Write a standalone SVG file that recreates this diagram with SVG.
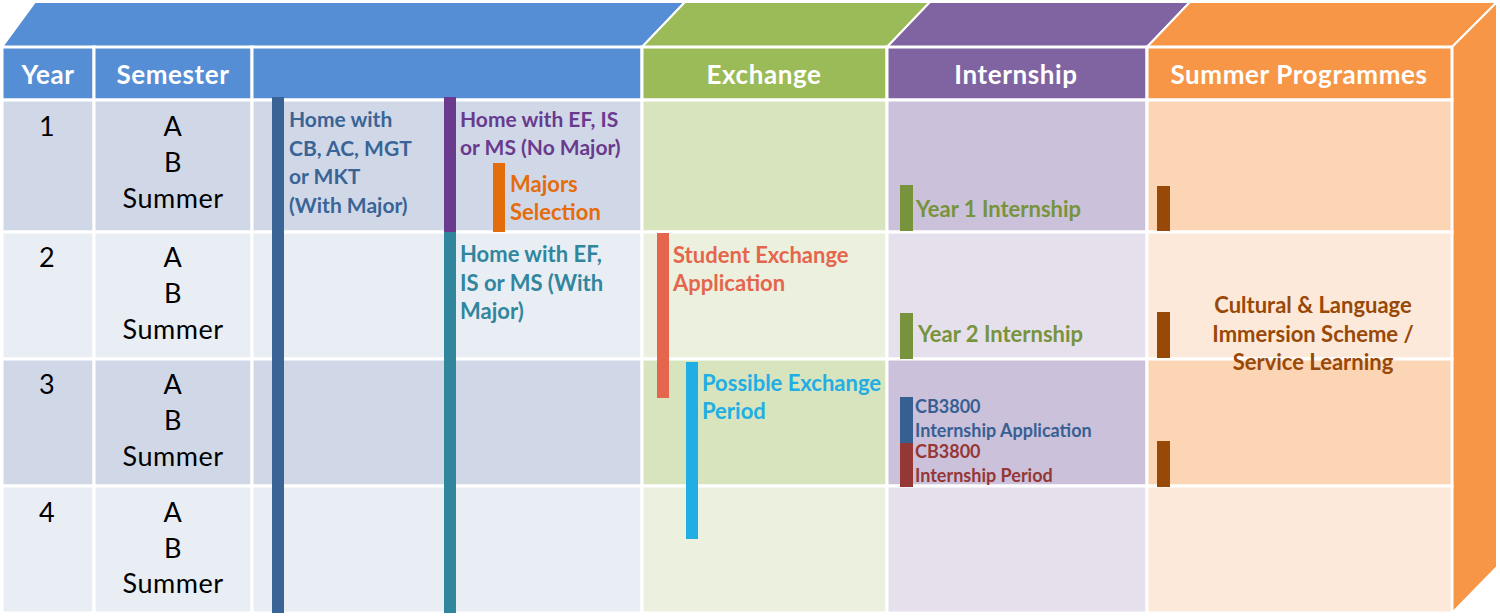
<svg xmlns="http://www.w3.org/2000/svg" width="1500" height="616" viewBox="0 0 1500 616">
<style>
.hd{font-family:Lato,"Open Sans",sans-serif;font-weight:bold;font-size:26px;letter-spacing:0.6px;fill:#fff;text-anchor:middle}
.yr{font-family:Lato,"Open Sans",sans-serif;font-size:27px;letter-spacing:0.5px;fill:#000;text-anchor:middle}
.lb{font-family:Lato,"Open Sans",sans-serif;font-weight:bold;font-size:22px}
.lb2{font-family:Lato,"Open Sans",sans-serif;font-weight:bold;font-size:21px}
.sm{font-family:Lato,"Open Sans",sans-serif;font-weight:bold;font-size:18px}
.cell{stroke:#fff;stroke-width:3}
</style>
<rect width="1500" height="616" fill="#fff"/>
<g id="top-faces" stroke="#fff" stroke-width="2">
<polygon points="2,47 35,2 685,2 642,47" fill="#558ed5"/>
<polygon points="642,47 685,2 930,2 887,47" fill="#9bbb59"/>
<polygon points="887,47 930,2 1190,2 1147,47" fill="#8064a2"/>
<polygon points="1147,47 1190,2 1497,2 1452,47" fill="#f79646"/>
<polygon points="1452,47 1497,2 1497,567 1452,613" fill="#f79646"/>
</g>
<g id="header">
<rect class="cell" x="2" y="47" width="92" height="53" fill="#558ed5"/>
<rect class="cell" x="94" y="47" width="158" height="53" fill="#558ed5"/>
<rect class="cell" x="252" y="47" width="390" height="53" fill="#558ed5"/>
<rect class="cell" x="642" y="47" width="245" height="53" fill="#9bbb59"/>
<rect class="cell" x="887" y="47" width="260" height="53" fill="#8064a2"/>
<rect class="cell" x="1147" y="47" width="305" height="53" fill="#f79646"/>
<text class="hd" x="48" y="84">Year</text>
<text class="hd" x="173" y="84">Semester</text>
<text class="hd" x="764" y="84">Exchange</text>
<text class="hd" x="1016" y="84">Internship</text>
<text class="hd" x="1299" y="84">Summer Programmes</text>
</g>
<g id="rows">
<g id="row1">
<rect class="cell" x="2" y="100" width="92" height="132" fill="#d0d8e8"/>
<rect class="cell" x="94" y="100" width="158" height="132" fill="#d0d8e8"/>
<rect class="cell" x="252" y="100" width="390" height="132" fill="#d0d8e8"/>
<rect class="cell" x="642" y="100" width="245" height="132" fill="#d7e4bd"/>
<rect class="cell" x="887" y="100" width="260" height="132" fill="#ccc1da"/>
<rect class="cell" x="1147" y="100" width="305" height="132" fill="#fcd5b5"/>
</g>
<g id="row2">
<rect class="cell" x="2" y="232" width="92" height="127" fill="#e9edf4"/>
<rect class="cell" x="94" y="232" width="158" height="127" fill="#e9edf4"/>
<rect class="cell" x="252" y="232" width="390" height="127" fill="#e9edf4"/>
<rect class="cell" x="642" y="232" width="245" height="127" fill="#ebf1de"/>
<rect class="cell" x="887" y="232" width="260" height="127" fill="#e5e0ec"/>
<rect class="cell" x="1147" y="232" width="305" height="127" fill="#fde9d9"/>
</g>
<g id="row3">
<rect class="cell" x="2" y="359" width="92" height="127" fill="#d0d8e8"/>
<rect class="cell" x="94" y="359" width="158" height="127" fill="#d0d8e8"/>
<rect class="cell" x="252" y="359" width="390" height="127" fill="#d0d8e8"/>
<rect class="cell" x="642" y="359" width="245" height="127" fill="#d7e4bd"/>
<rect class="cell" x="887" y="359" width="260" height="127" fill="#ccc1da"/>
<rect class="cell" x="1147" y="359" width="305" height="127" fill="#fcd5b5"/>
</g>
<g id="row4">
<rect class="cell" x="2" y="486" width="92" height="127" fill="#e9edf4"/>
<rect class="cell" x="94" y="486" width="158" height="127" fill="#e9edf4"/>
<rect class="cell" x="252" y="486" width="390" height="127" fill="#e9edf4"/>
<rect class="cell" x="642" y="486" width="245" height="127" fill="#ebf1de"/>
<rect class="cell" x="887" y="486" width="260" height="127" fill="#e5e0ec"/>
<rect class="cell" x="1147" y="486" width="305" height="127" fill="#fde9d9"/>
</g>
</g>
<g id="years">
<text class="yr" x="47" y="136">1</text>
<text class="yr" x="173" y="136">A</text>
<text class="yr" x="173" y="172">B</text>
<text class="yr" x="173" y="208">Summer</text>
<text class="yr" x="47" y="267">2</text>
<text class="yr" x="173" y="267">A</text>
<text class="yr" x="173" y="303">B</text>
<text class="yr" x="173" y="339">Summer</text>
<text class="yr" x="47" y="394">3</text>
<text class="yr" x="173" y="394">A</text>
<text class="yr" x="173" y="430">B</text>
<text class="yr" x="173" y="466">Summer</text>
<text class="yr" x="47" y="522">4</text>
<text class="yr" x="173" y="522">A</text>
<text class="yr" x="173" y="558">B</text>
<text class="yr" x="173" y="593">Summer</text>
</g>
<g id="home-major">
<rect x="272" y="97" width="12" height="516" fill="#3a6496"/>
<text class="lb2" fill="#3a6496"><tspan x="289" y="127">Home with</tspan><tspan x="289" y="156">CB, AC, MGT</tspan><tspan x="289" y="184">or MKT</tspan><tspan x="289" y="213">(With Major)</tspan></text>
</g>
<g id="home-nomajor">
<rect x="444" y="97" width="12" height="135" fill="#6a3a8e"/>
<text class="lb2" fill="#6a3a8e"><tspan x="460" y="127">Home with EF, IS</tspan><tspan x="460" y="155">or MS (No Major)</tspan></text>
</g>
<g id="majors-selection">
<rect x="493" y="163" width="12" height="69" fill="#e46c0a"/>
<text class="lb" fill="#e46c0a"><tspan x="510" y="192">Majors</tspan><tspan x="510" y="220">Selection</tspan></text>
</g>
<g id="home-withmajor">
<rect x="444" y="232" width="12" height="381" fill="#31869d"/>
<text class="lb" fill="#31869d"><tspan x="460" y="262">Home with EF,</tspan><tspan x="460" y="291">IS or MS (With</tspan><tspan x="460" y="319">Major)</tspan></text>
</g>
<g id="exchange-application">
<rect x="657" y="233" width="12" height="165" fill="#e5664c"/>
<text class="lb" fill="#e5664c"><tspan x="673" y="263">Student Exchange</tspan><tspan x="673" y="291">Application</tspan></text>
</g>
<g id="exchange-period">
<rect x="686" y="362" width="12" height="177" fill="#21aee5"/>
<text class="lb" fill="#21aee5"><tspan x="702" y="391">Possible Exchange</tspan><tspan x="702" y="419">Period</tspan></text>
</g>
<g id="internship-y1">
<rect x="900" y="185" width="13" height="46" fill="#77933c"/>
<text class="lb" fill="#77933c" x="916" y="217">Year 1 Internship</text>
</g>
<g id="internship-y2">
<rect x="900" y="313" width="13" height="46" fill="#77933c"/>
<text class="lb" fill="#77933c" x="918" y="342">Year 2 Internship</text>
</g>
<g id="cb3800-application">
<rect x="900" y="397" width="13" height="46" fill="#376092"/>
<text class="sm" fill="#376092"><tspan x="915" y="413">CB3800</tspan><tspan x="915" y="437">Internship Application</tspan></text>
</g>
<g id="cb3800-period">
<rect x="900" y="443" width="13" height="44" fill="#953735"/>
<text class="sm" fill="#953735"><tspan x="915" y="458">CB3800</tspan><tspan x="915" y="482">Internship Period</tspan></text>
</g>
<g id="summer-programmes">
<rect x="1157" y="186" width="13" height="45" fill="#984807"/>
<rect x="1157" y="312" width="13" height="46" fill="#984807"/>
<rect x="1157" y="441" width="13" height="46" fill="#984807"/>
<text class="lb" fill="#984807" text-anchor="middle"><tspan x="1313" y="313">Cultural &amp; Language</tspan><tspan x="1313" y="342">Immersion Scheme /</tspan><tspan x="1313" y="370">Service Learning</tspan></text>
</g>
<g id="connectors"/>
</svg>
